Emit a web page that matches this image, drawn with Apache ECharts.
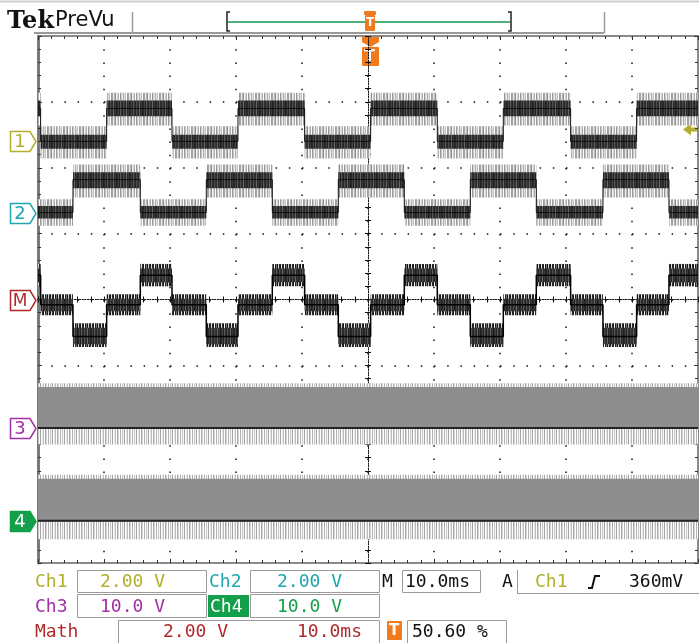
<!DOCTYPE html>
<html>
<head>
<meta charset="utf-8">
<script src="https://cdn.jsdelivr.net/npm/echarts@6/dist/echarts.min.js"></script>
<style>
  html, body { margin: 0; padding: 0; background: #fff; }
  #scope { width: 699px; height: 643px; }
</style>
</head>
<body>
<div id="scope"></div>
<script>
// time in ms from screen centre (10 ms/div), amplitude in divisions from screen centre
var T_MIN = -50, T_MAX = 50, T_DIV = 10;
var Y_MIN = -4, Y_MAX = 4;

// Ch1: 0 = low, 1 = high
var ch1Edges = [-49.6, -39.6, -29.7, -19.7, -9.6, 0.4, 10.5, 20.5, 30.7, 40.7];
var ch1States = [1, 0, 1, 0, 1, 0, 1, 0, 1, 0, 1];
var ch1Trace = [2.40, 2.90];
var ch1Core = [[2.29, 2.50], [2.78, 3.02]];
var ch1Outer = [[2.14, 2.63], [2.64, 3.14]];

// Ch2
var ch2Edges = [-44.7, -34.5, -24.5, -14.5, -4.5, 5.5, 15.5, 25.5, 35.6, 45.6];
var ch2States = [0, 1, 0, 1, 0, 1, 0, 1, 0, 1, 0];
var ch2Trace = [1.32, 1.82];
var ch2Core = [[1.23, 1.42], [1.69, 1.93]];
var ch2Outer = [[1.12, 1.52], [1.55, 2.05]];

// Math (Ch1 - Ch2): 0 = low, 1 = mid, 2 = high
var mathEdges = [-49.6, -44.7, -39.6, -34.5, -29.7, -24.5, -19.7, -14.5, -9.6, -4.5,
                 0.4, 5.5, 10.5, 15.5, 20.5, 25.5, 30.7, 35.6, 40.7, 45.6];
var mathStates = [2, 1, 0, 1, 2, 1, 0, 1, 2, 1, 0, 1, 2, 1, 0, 1, 2, 1, 0, 1, 2];
var mathTrace = [-0.56, -0.08, 0.37];
var mathCore = [[-0.68, -0.43], [-0.18, 0.01], [0.26, 0.47]];
var mathOuter = [[-0.72, -0.36], [-0.24, 0.08], [0.20, 0.54]];

// Ch3 / Ch4: PWM bursts, drawn as a band over the whole record
var ch3Trace = [-1.95];
var ch3Body = [[-1.96, -1.33]];
var ch3Outer = [[-2.20, -1.27]];
var ch4Trace = [-3.36];
var ch4Body = [[-3.37, -2.72]];
var ch4Outer = [[-3.64, -2.66]];

var trigLevel = 2.58;   // Ch1 360 mV
var markerLabels = ['1', '2', 'M', '3', '4'];
var markerLevels = [ch1Trace[0], ch2Trace[0], 0, ch3Trace[0], ch4Trace[0]];

var C_CH1 = '#b0b02c', C_CH2 = '#1fa6ae', C_CH3 = '#a22fa6', C_CH4 = '#14a04a',
    C_MATH = '#b02a2a', C_ORANGE = '#f07a1e';

// stripe shades for the persistence texture (one column per entry)
var shadeNoise = ['#a6a6a6', '#e6e6e6', '#bdbdbd', '#8e8e8e', '#f2f2f2', '#d4d4d4', '#ababab', '#ffffff',
                  '#9a9a9a', '#c8c8c8', '#eeeeee', '#b0b0b0', '#dddddd', '#c2c2c2', '#ffffff', '#9e9e9e'];
var shadeCore = ['#2a2a2a', '#444444', '#222222', '#5a5a5a', '#303030', '#262626', '#4c4c4c', '#333333',
                 '#2c2c2c', '#666666', '#282828', '#3a3a3a', '#202020'];
var shadeMath = ['#1a1a1a', '#e0e0e0', '#2a2a2a', '#1a1a1a', '#ffffff', '#222222', '#777777', '#161616', '#cccccc', '#2a2a2a'];
var shadePwmEdge = ['#b0b0b0', '#ffffff', '#c8c8c8', '#f4f4f4', '#a4a4a4', '#ffffff', '#e8e8e8', '#bcbcbc',
                    '#ffffff', '#aaaaaa', '#d4d4d4', '#ffffff'];
var pwmBody = '#8e8e8e';

function stripes(shades) {
  var c = document.createElement('canvas');
  c.width = shades.length; c.height = 1;
  var ctx = c.getContext('2d');
  shades.forEach(function (s, i) { ctx.fillStyle = s; ctx.fillRect(i, 0, 1, 1); });
  return { image: c, repeat: 'repeat' };
}

function bounds(edges) { return [T_MIN].concat(edges, [T_MAX]); }
function segments(edges, states, bands) {
  var b = bounds(edges);
  return states.map(function (s, i) { return [b[i], b[i + 1], bands[s][0], bands[s][1]]; });
}
function steps(edges, states, levels) {
  var b = bounds(edges), pts = [];
  states.forEach(function (s, i) { pts.push([b[i], levels[s]], [b[i + 1], levels[s]]); });
  return pts;
}
function bandSeries(data, fill) {
  return {
    type: 'custom', xAxisIndex: 0, yAxisIndex: 0, clip: true, silent: true,
    encode: { x: [0, 1], y: [2, 3] },
    renderItem: function (params, api) {
      var p0 = api.coord([api.value(0), api.value(3)]);
      var p1 = api.coord([api.value(1), api.value(2)]);
      return { type: 'rect', shape: { x: p0[0], y: p0[1], width: p1[0] - p0[0], height: p1[1] - p0[1] },
               style: { fill: fill } };
    },
    data: data
  };
}
function traceSeries(data, color, w) {
  return { type: 'line', xAxisIndex: 0, yAxisIndex: 0, symbol: 'none', silent: true,
           lineStyle: { color: color, width: w }, data: data };
}

var dots = { color: '#111', width: 1.5, type: [1.5, 11.7] };
var rim = { color: '#8a8a8a', width: 2 };

function xAx(extra) {
  return Object.assign({ type: 'value', min: T_MIN, max: T_MAX, interval: T_DIV,
    axisLabel: { show: false }, splitLine: { show: false } }, extra);
}
function yAx(extra) {
  return Object.assign({ type: 'value', min: Y_MIN, max: Y_MAX, interval: 1,
    axisLabel: { show: false }, splitLine: { show: false } }, extra);
}
var rimTick = { show: true, inside: true, length: 4, lineStyle: { color: '#333' } };
var rimMinor = { show: true, splitNumber: 5, length: 3, lineStyle: { color: '#333' } };
var ctrLine = { show: true, onZero: true, onZeroAxisIndex: 0, lineStyle: { color: '#111', width: 1, type: [1, 1.6] } };
var ctrTick = { show: true, length: 3, lineStyle: { color: '#111' } };
var ctrMinor = { show: true, splitNumber: 5, length: 3, lineStyle: { color: '#111' } };

var chart = echarts.init(document.getElementById('scope'), null, { renderer: 'canvas' });

var option = {
  animation: false,
  backgroundColor: '#ffffff',
  grid: { left: 38, top: 36, width: 660, height: 527, show: false },
  xAxis: [
    xAx({ position: 'bottom', axisLine: { onZero: false, lineStyle: rim }, axisTick: rimTick, minorTick: rimMinor,
          splitLine: { show: true, lineStyle: dots } }),
    xAx({ position: 'top', axisLine: { onZero: false, lineStyle: rim }, axisTick: rimTick, minorTick: rimMinor }),
    xAx({ position: 'bottom', axisLine: ctrLine, axisTick: Object.assign({ inside: false }, ctrTick), minorTick: ctrMinor }),
    xAx({ position: 'bottom', axisLine: ctrLine, axisTick: Object.assign({ inside: true }, ctrTick), minorTick: ctrMinor })
  ],
  yAxis: [
    yAx({ position: 'left', axisLine: { onZero: false, lineStyle: { color: '#7a7a7a', width: 3 } }, axisTick: rimTick,
          minorTick: rimMinor, splitLine: { show: true, lineStyle: dots } }),
    yAx({ position: 'right', axisLine: { onZero: false, lineStyle: rim }, axisTick: rimTick, minorTick: rimMinor }),
    yAx({ position: 'left', axisLine: ctrLine, axisTick: Object.assign({ inside: false }, ctrTick), minorTick: ctrMinor }),
    yAx({ position: 'left', axisLine: ctrLine, axisTick: Object.assign({ inside: true }, ctrTick), minorTick: ctrMinor })
  ],
  series: [
    bandSeries(segments(ch1Edges, ch1States, ch1Outer), stripes(shadeNoise)),
    bandSeries(segments(ch1Edges, ch1States, ch1Core), stripes(shadeCore)),
    traceSeries(steps(ch1Edges, ch1States, ch1Trace), '#111', 1),
    bandSeries(segments(ch2Edges, ch2States, ch2Outer), stripes(shadeNoise)),
    bandSeries(segments(ch2Edges, ch2States, ch2Core), stripes(shadeCore)),
    traceSeries(steps(ch2Edges, ch2States, ch2Trace), '#111', 1),
    bandSeries(segments(mathEdges, mathStates, mathOuter), stripes(shadeMath)),
    bandSeries(segments(mathEdges, mathStates, mathCore), stripes(shadeCore)),
    traceSeries(steps(mathEdges, mathStates, mathTrace), '#000', 1.5),
    bandSeries(segments([], [0], ch3Outer), stripes(shadePwmEdge)),
    bandSeries(segments([], [0], ch3Body), pwmBody),
    traceSeries(steps([], [0], ch3Trace), '#222', 2),
    bandSeries(segments([], [0], ch4Outer), stripes(shadePwmEdge)),
    bandSeries(segments([], [0], ch4Body), pwmBody),
    traceSeries(steps([], [0], ch4Trace), '#222', 2)
  ]
};
chart.setOption(option);

// ---- readout panels and markers ----
var FONT = '18px "DejaVu Sans Mono"';
function txt(x, y, s, color, font) {
  return { type: 'text', x: x, y: y, silent: true,
           style: { text: s, fill: color, font: font || FONT, align: 'left', verticalAlign: 'middle' } };
}
function box(x, y, w, h, fill, stroke) {
  return { type: 'rect', silent: true, shape: { x: x, y: y, width: w, height: h },
           style: { fill: fill || 'none', stroke: stroke || '#9a9a9a', lineWidth: 1 } };
}
function line(x1, y1, x2, y2, color, w) {
  return { type: 'line', silent: true, shape: { x1: x1, y1: y1, x2: x2, y2: y2 },
           style: { stroke: color, lineWidth: w || 1 } };
}

var g = [];
// header
g.push(line(0, 1.5, 699, 1.5, '#cfcfcf', 2));
g.push(txt(7, 22, 'Tek', '#111', 'bold 24px "DejaVu Serif"'));
g.push(txt(55, 21, 'PreVu', '#111', '21px "DejaVu Sans"'));
g.push(line(34, 33, 604, 33, '#999', 2));
g.push(line(132.5, 12, 132.5, 33, '#999', 1.5));
g.push(line(604.5, 12, 604.5, 33, '#999', 1.5));
g.push({ type: 'polyline', silent: true, shape: { points: [[230, 12], [227, 12], [227, 31], [230, 31]] },
         style: { stroke: '#222', lineWidth: 1.5, fill: 'none' } });
g.push({ type: 'polyline', silent: true, shape: { points: [[508, 12], [511, 12], [511, 31], [508, 31]] },
         style: { stroke: '#222', lineWidth: 1.5, fill: 'none' } });
g.push(line(228, 22, 510, 22, '#4fb07e', 2));
g.push({ type: 'rect', silent: true, shape: { x: 364, y: 11, width: 12, height: 4, r: 1 }, style: { fill: C_ORANGE } });
g.push({ type: 'rect', silent: true, shape: { x: 365, y: 15, width: 10, height: 16, r: 1 }, style: { fill: C_ORANGE } });
g.push(txt(366, 23, 'T', '#fff', 'bold 12px "DejaVu Sans"'));
// trigger position tag under the top rim
g.push({ type: 'polygon', silent: true, shape: { points: [[362, 37], [379, 37], [379, 42], [370.5, 47], [362, 42]] },
         style: { fill: C_ORANGE } });
g.push({ type: 'rect', silent: true, shape: { x: 362, y: 47, width: 17, height: 19, r: 1 }, style: { fill: C_ORANGE } });
g.push(txt(364, 57, 'T', '#fff', 'bold 16px "DejaVu Sans"'));

// readout rows
g.push(box(77.5, 570.5, 129, 22), box(250.5, 570.5, 129, 22), box(402.5, 570.5, 78, 22));
g.push(box(77.5, 594.5, 129, 23), box(250.5, 594.5, 129, 23));
g.push(box(118.5, 620.5, 261, 24), box(407.5, 620.5, 99, 24));
g.push(line(517.5, 570, 517.5, 594, '#9a9a9a', 1), line(517, 593.5, 699, 593.5, '#9a9a9a', 1));
g.push(txt(35, 582, 'Ch1', C_CH1), txt(100, 582, '2.00 V', C_CH1));
g.push(txt(209, 582, 'Ch2', C_CH2), txt(277, 582, '2.00 V', C_CH2));
g.push(txt(382, 582, 'M', '#111'), txt(405, 582, '10.0ms', '#111'));
g.push(txt(502, 582, 'A', '#111'), txt(535, 582, 'Ch1', C_CH1), txt(629, 582, '360mV', '#111'));
g.push({ type: 'polyline', silent: true, shape: { points: [[588, 588], [592, 588], [595, 576], [600, 576]] },
         style: { stroke: '#111', lineWidth: 2, fill: 'none' } });
g.push(txt(35, 607, 'Ch3', C_CH3), txt(100, 607, '10.0 V', C_CH3));
g.push({ type: 'rect', silent: true, shape: { x: 208, y: 595, width: 41, height: 22 }, style: { fill: C_CH4 } });
g.push(txt(210, 607, 'Ch4', '#fff'), txt(277, 607, '10.0 V', C_CH4));
g.push(txt(35, 632, 'Math', C_MATH), txt(163, 632, '2.00 V', C_MATH), txt(297, 632, '10.0ms', C_MATH));
g.push({ type: 'rect', silent: true, shape: { x: 387, y: 621, width: 15, height: 19, r: 1 }, style: { fill: C_ORANGE } });
g.push(txt(389, 631, 'T', '#fff', 'bold 15px "DejaVu Sans"'));
g.push(txt(412, 632, '50.60 %', '#111'));

// ground markers on the left, placed through the y axis
var markerColors = [C_CH1, C_CH2, C_MATH, C_CH3, C_CH4];
markerLevels.forEach(function (v, i) {
  var y = Math.round(chart.convertToPixel({ yAxisIndex: 0 }, v)) + 0.5;
  var filled = i === 4;
  g.push({ type: 'polygon', silent: true,
           shape: { points: [[10.5, y - 10], [30, y - 10], [36, y], [30, y + 10], [10.5, y + 10]] },
           style: { fill: filled ? markerColors[i] : '#fff', stroke: markerColors[i], lineWidth: 1.5 } });
  g.push({ type: 'text', silent: true, x: 20, y: y + 1,
           style: { text: markerLabels[i], fill: filled ? '#fff' : markerColors[i],
                    font: (i === 2 ? '17px' : '18px') + ' "DejaVu Sans"', align: 'center', verticalAlign: 'middle' } });
});
// trigger level arrow on the right
var ty = chart.convertToPixel({ yAxisIndex: 0 }, trigLevel);
g.push({ type: 'polygon', silent: true,
         shape: { points: [[683, ty], [691, ty - 6], [691, ty - 2], [698, ty - 2], [698, ty + 2], [691, ty + 2], [691, ty + 6]] },
         style: { fill: C_CH1 } });

chart.setOption({ graphic: { elements: g } });
</script>
</body>
</html>
